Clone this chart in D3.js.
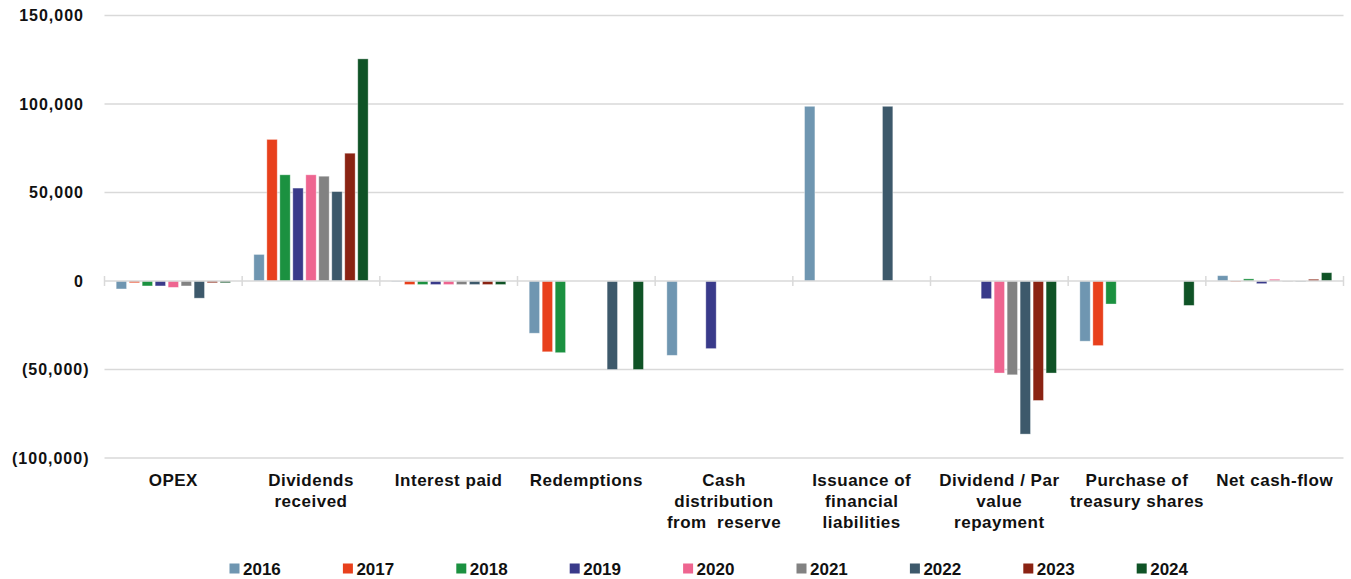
<!DOCTYPE html>
<html>
<head>
<meta charset="utf-8">
<script src="https://cdn.jsdelivr.net/npm/d3@7/dist/d3.min.js"></script>
<style>
  html, body { margin: 0; padding: 0; background: #fff; }
  svg { display: block; font-family: "Liberation Sans", Arial, sans-serif; font-weight: bold; }
</style>
</head>
<body>
<svg id="chart" width="1351" height="579"></svg>
<script>
const categories = [
  ["OPEX"],
  ["Dividends", "received"],
  ["Interest paid"],
  ["Redemptions"],
  ["Cash", "distribution", "from  reserve"],
  ["Issuance of", "financial", "liabilities"],
  ["Dividend / Par", "value", "repayment"],
  ["Purchase of", "treasury shares"],
  ["Net cash-flow"]
];
const years = ["2016", "2017", "2018", "2019", "2020", "2021", "2022", "2023", "2024"];
const colors = ["#6f96b1", "#e8401c", "#1b9140", "#393a8a", "#ee6590", "#828282", "#3d596b", "#8a2313", "#0f5326"];

const v2016 = [-4500, 15000, -300, -29500, -42000, 98700, 0, -34000, 3000];
const v2017 = [-1000, 80000, -2000, -40000, 0, 0, 0, -36500, -500];
const v2018 = [-2800, 60000, -2000, -40500, 0, 0, 0, -13000, 1200];
const v2019 = [-2800, 52500, -2000, 0, -38200, 0, -10000, 0, -1500];
const v2020 = [-3600, 60000, -2000, 0, 0, 0, -52000, 0, 1000];
const v2021 = [-2800, 59200, -2000, 0, 0, 0, -53000, 0, -300];
const v2022 = [-9700, 50500, -2000, -50000, 0, 98700, -86500, 0, -300];
const v2023 = [-1000, 72200, -2000, 0, 0, 0, -67500, 0, 1000];
const v2024 = [-1000, 125500, -2000, -50000, 0, 0, -52000, -13800, 4700];
const series = [v2016, v2017, v2018, v2019, v2020, v2021, v2022, v2023, v2024];

const yTicks = [-100000, -50000, 0, 50000, 100000, 150000];

const svg = d3.select("#chart");
const pLeft = 104.5, pRight = 1343.5, pTop = 15.5, pBottom = 458;

const x0 = d3.scaleBand().domain(d3.range(categories.length)).range([pLeft, pRight]).paddingInner(0).paddingOuter(0);
const x1 = d3.scaleBand().domain(years).range([0, x0.bandwidth()]).paddingInner(0.2).paddingOuter(0.9);
const y = d3.scaleLinear().domain([-100000, 150000]).range([pBottom, pTop]);

// gridlines
svg.append("g").selectAll("line").data(yTicks.filter(d => d !== 0)).join("line")
  .attr("x1", pLeft).attr("x2", pRight)
  .attr("y1", d => y(d)).attr("y2", d => y(d))
  .attr("stroke", "#d9d9d9").attr("stroke-width", 1.5);

// y tick labels
const fmt = d3.format(",");
svg.append("g").selectAll("text").data(yTicks).join("text")
  .attr("x", d => d < 0 ? 89.5 : 84)
  .attr("y", d => y(d))
  .attr("dy", "0.36em")
  .attr("text-anchor", "end")
  .attr("font-size", 16)
  .attr("letter-spacing", 1)
  .attr("fill", "#111")
  .text(d => d < 0 ? "(" + fmt(-d) + ")" : fmt(d));

// bars
const groups = svg.append("g").selectAll("g").data(series).join("g")
  .attr("fill", (d, i) => colors[i]);
groups.each(function(vals, si) {
  d3.select(this).selectAll("rect").data(vals).join("rect")
    .attr("x", (d, ci) => x0(ci) + x1(years[si]))
    .attr("width", x1.bandwidth())
    .attr("y", d => y(Math.max(0, d)))
    .attr("height", d => Math.abs(y(d) - y(0)))
    .attr("stroke", "#ffffff").attr("stroke-opacity", 0.45).attr("stroke-width", 0.8);
});

// zero axis with category ticks
svg.append("line")
  .attr("x1", pLeft).attr("x2", pRight).attr("y1", y(0)).attr("y2", y(0))
  .attr("stroke", "#d9d9d9").attr("stroke-width", 1.5);
const bounds = d3.range(categories.length + 1).map(i => i < categories.length ? x0(i) : pRight);
svg.append("g").selectAll("line").data(bounds).join("line")
  .attr("x1", d => d).attr("x2", d => d)
  .attr("y1", y(0) - 5).attr("y2", y(0) + 5)
  .attr("stroke", "#d9d9d9").attr("stroke-width", 1.5);

// category labels
const cl = svg.append("g").selectAll("text").data(categories).join("text")
  .attr("text-anchor", "middle")
  .attr("font-size", 17)
  .attr("letter-spacing", 0.5)
  .attr("fill", "#111")
  .style("white-space", "pre");
cl.each(function(lines, i) {
  d3.select(this).selectAll("tspan").data(lines).join("tspan")
    .attr("x", x0(i) + x0.bandwidth() / 2)
    .attr("y", (d, k) => 486 + k * 21)
    .text(d => d);
});

// legend
const lg = svg.append("g").selectAll("g").data(years).join("g")
  .attr("transform", (d, i) => `translate(${229.5 + i * 113.4},0)`);
lg.append("rect").attr("x", 0).attr("y", 563.5).attr("width", 10).attr("height", 10)
  .attr("fill", (d, i) => colors[i]);
lg.append("text").attr("x", 13.5).attr("y", 574.5).attr("font-size", 17)
  .attr("fill", "#111").text(d => d);
</script>
</body>
</html>
